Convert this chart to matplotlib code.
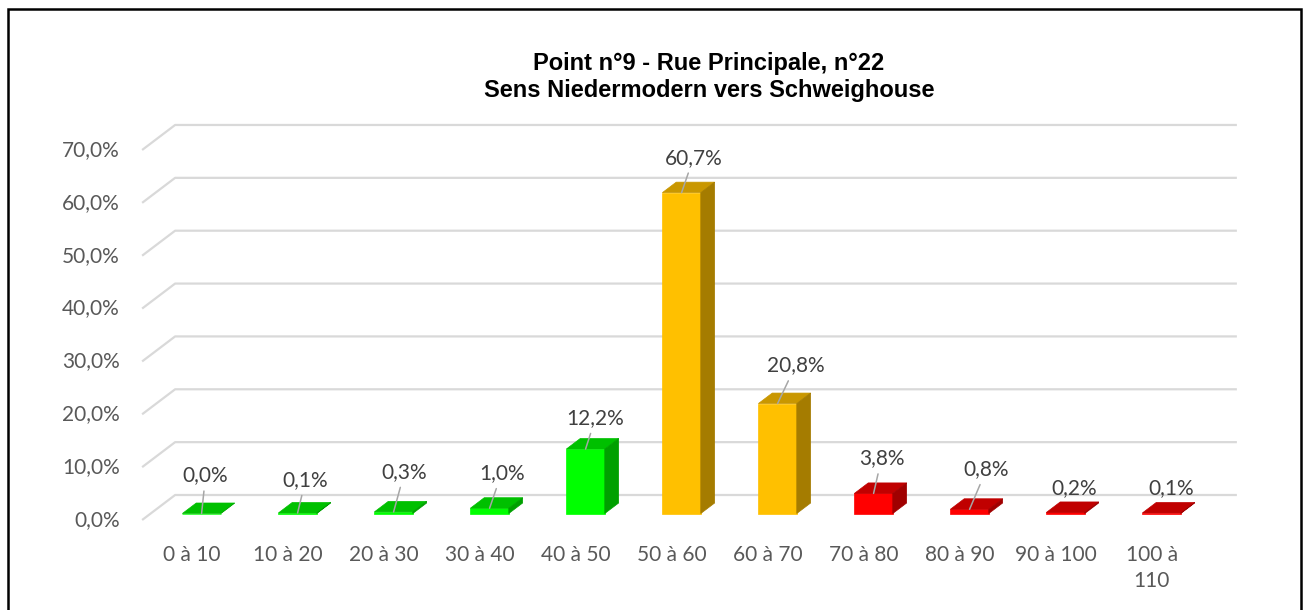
import matplotlib.pyplot as plt
from matplotlib.patches import Polygon, Rectangle

# data
categories = ['0 à 10', '10 à 20', '20 à 30', '30 à 40', '40 à 50', '50 à 60',
              '60 à 70', '70 à 80', '80 à 90', '90 à 100', '100 à\n110']
values = [0.0, 0.1, 0.3, 1.0, 12.2, 60.7, 20.8, 3.8, 0.8, 0.2, 0.1]
groups = ['vert'] * 5 + ['orange'] * 2 + ['rouge'] * 4
yticks = [0, 10, 20, 30, 40, 50, 60, 70]
title = 'Point n°9 - Rue Principale, n°22\nSens Niedermodern vers Schweighouse'

# label offsets (px, right / up) from top of each bar, as placed in the source
label_off = [(4, 38), (8, 33), (11, 40), (12, 35), (10, 31), (12, 35),
             (18, 38), (8, 35), (17, 40), (9, 24), (10, 25)]
leader = [True] * 9 + [False] * 2

colors = {
    'vert': ('#00FF00', '#00C000', '#00A000'),
    'orange': ('#FFC000', '#C99700', '#A57C00'),
    'rouge': ('#FF0000', '#C00000', '#A00000'),
}

W, H = 1309, 610
fig = plt.figure(figsize=(W / 100, H / 100), dpi=100)
ax = fig.add_axes([0, 0, 1, 1])

# scale: front plane, px from left / from top
X0, PX_CAT = 193, 96
Y0, PX_PCT = 520, 5.286
ax.set_xlim(-X0 / PX_CAT, (W - X0) / PX_CAT)
ax.set_ylim((Y0 - H) / PX_PCT, Y0 / PX_PCT)
ax.axis('off')

# fake 3d depth
DX = 33 / PX_CAT
DY = 25 / PX_PCT
x_left, x_right = -0.53, 10.53
bw = 0.4
d0, d1 = 0.26, 0.68

font = ['Lato', 'DejaVu Sans']
grey_txt = '#595959'
fs = 15

# grid + back wall
for v in yticks:
    ax.plot([x_left, x_left + DX, x_right + DX], [v, v + DY, v + DY],
            color='#D9D9D9', lw=1.6, zorder=1, solid_capstyle='butt')
    ax.annotate(f'{v:.1f}'.replace('.', ',') + '%', (x_left, v),
                xytext=(-16, 0), textcoords='offset points', ha='right', va='center',
                fontsize=fs, color=grey_txt, family=font)

# bars
for i, (v, g) in enumerate(zip(values, groups)):
    front, top, side = colors[g]
    xl = i - bw / 2
    xr = i + bw / 2
    fx, fy = d0 * DX, d0 * DY
    bx, by = d1 * DX, d1 * DY
    ax.add_patch(Rectangle((xl + fx, fy), bw, v, facecolor=front, edgecolor=front,
                           lw=0.5, zorder=3))
    ax.add_patch(Polygon([(xl + fx, v + fy), (xr + fx, v + fy), (xr + bx, v + by), (xl + bx, v + by)],
                         closed=True, facecolor=top, edgecolor=top, lw=0.5, zorder=3))
    ax.add_patch(Polygon([(xr + fx, fy), (xr + bx, by), (xr + bx, v + by), (xr + fx, v + fy)],
                         closed=True, facecolor=side, edgecolor=side, lw=0.5, zorder=3))

    txt = f'{v:.1f}'.replace('.', ',') + '%'
    ox, oy = label_off[i]
    arrow = dict(arrowstyle='-', color='#A6A6A6', lw=1.1, shrinkA=2, shrinkB=0) if leader[i] else None
    ax.annotate(txt, (i + fx, v + fy), xytext=(ox * 0.72, oy * 0.72), textcoords='offset points',
                ha='center', va='center', fontsize=fs, color='#404040', family=font,
                arrowprops=arrow, zorder=4)

    ax.annotate(categories[i], (i, 0), xytext=(-1, -18), textcoords='offset points',
                ha='center', va='top', fontsize=fs, color=grey_txt, family=font,
                linespacing=1.4)

fig.text(0.5415, 1 - 77 / H, title, ha='center', va='center', fontsize=17,
         fontweight='bold', family=['Liberation Sans', 'DejaVu Sans'], linespacing=1.2)

# chart frame
fig.patches.append(Rectangle((8 / W, -0.1), (1301 - 8) / W, 1.1 - 9 / H, transform=fig.transFigure,
                             fill=False, edgecolor='black', lw=1.8))

fig.savefig('out.png', dpi=100, facecolor='white')
